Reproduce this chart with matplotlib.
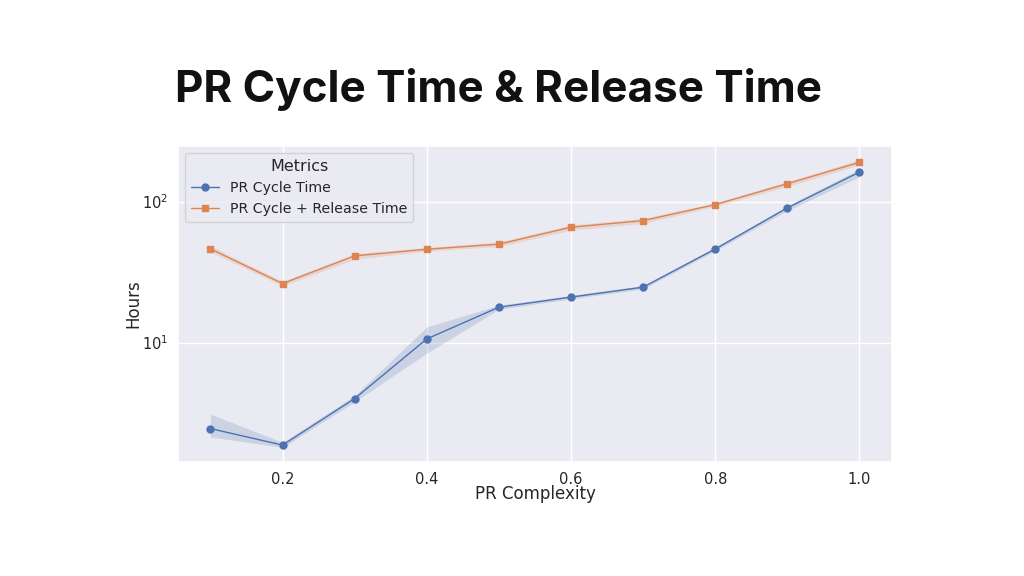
import matplotlib
matplotlib.use("Agg")
import matplotlib.pyplot as plt
import seaborn as sns
import numpy as np

complexity = [0.1, 0.2, 0.3, 0.4, 0.5, 0.6, 0.7, 0.8, 0.9, 1.0]
cycle_time = [2.45, 1.87, 4.0, 10.6, 17.8, 21.0, 24.7, 46.1, 90.2, 162]
cycle_low = [2.14, 1.80, 3.8, 8.4, 17.2, 20.4, 24.0, 44.8, 86.5, 150]
cycle_high = [3.10, 1.96, 4.2, 12.9, 18.4, 21.6, 25.4, 47.5, 93.5, 170]
release_time = [46.2, 26.2, 41.2, 45.9, 49.9, 65.8, 73.3, 95.2, 134, 190]
release_low = [44.0, 25.2, 39.0, 44.5, 48.0, 62.5, 70.0, 92.5, 128, 182]
release_high = [48.5, 27.2, 42.8, 47.3, 51.8, 68.5, 76.0, 98.0, 139, 198]

series_labels = ["PR Cycle Time", "PR Cycle + Release Time"]
legend_title = "Metrics"
title = "PR Cycle Time & Release Time"
xlabel = "PR Complexity"
ylabel = "Hours"

sns.set_theme(style="darkgrid")
plt.rcParams['font.family'] = ['DejaVu Sans']
pal = sns.color_palette("deep")
blue, orange = pal[0], pal[1]

fig = plt.figure(figsize=(10.24, 5.76), dpi=100)
fig.patch.set_facecolor("white")
ax = fig.add_axes([0.1738, 0.198, 0.871 - 0.1738, 0.7465 - 0.198])

ax.fill_between(complexity, cycle_low, cycle_high, color=blue, alpha=0.2, linewidth=0)
ax.plot(complexity, cycle_time, color=blue, marker="o", markersize=5, linewidth=1,
        label=series_labels[0])
ax.fill_between(complexity, release_low, release_high, color=orange, alpha=0.2, linewidth=0)
ax.plot(complexity, release_time, color=orange, marker="s", markersize=5, linewidth=1,
        label=series_labels[1])

ax.set_yscale("log")
ax.set_ylim(1.42, 248)
ax.set_xlim(0.055, 1.045)
ax.set_xticks([0.2, 0.4, 0.6, 0.8, 1.0])
ax.tick_params(axis="both", which="both", labelsize=10.5, colors="#262626", pad=1)
ax.set_xlabel(xlabel, fontsize=12, color="#262626", labelpad=-1)
ax.set_ylabel(ylabel, fontsize=12, color="#262626", labelpad=0)

leg = ax.legend(title=legend_title, loc="upper left", fontsize=10.2, title_fontsize=11.5,
                frameon=True)

fig.text(0.171, 0.823, title, fontsize=31.7, fontweight="bold", family=["Inter", "DejaVu Sans"],
         color="#111111", va="baseline", ha="left")

fig.savefig("out.png", dpi=100, facecolor="white")
